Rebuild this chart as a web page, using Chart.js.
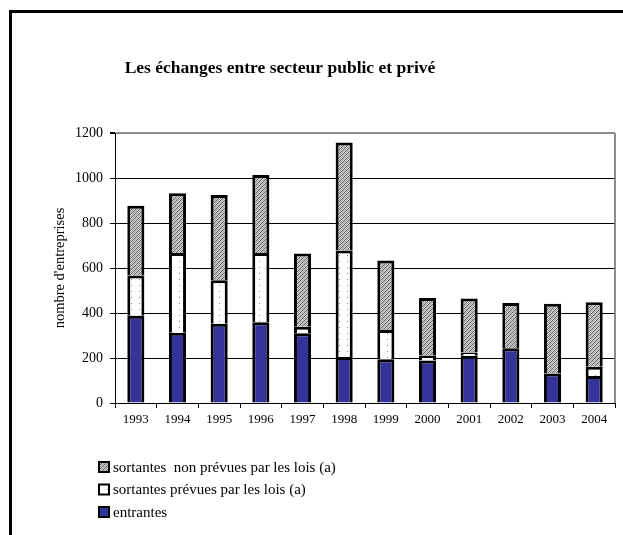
<!DOCTYPE html>
<html>
<head>
<meta charset="utf-8">
<script src="https://cdn.jsdelivr.net/npm/chart.js@4.4.0/dist/chart.umd.min.js"></script>
<style>
  html, body { margin: 0; padding: 0; background: #fff; }
  #wrap { position: relative; width: 623px; height: 535px; }
</style>
</head>
<body>
<div id="wrap"><canvas id="chart" width="623" height="535"></canvas></div>
<script>
// Data
const years = ['1993', '1994', '1995', '1996', '1997', '1998', '1999', '2000', '2001', '2002', '2003', '2004'];
const entrantes = [388, 312, 352, 359, 310, 204, 194, 189, 210, 243, 131, 120];
const sortantesPrevues = [179, 355, 194, 308, 29, 474, 130, 22, 15, 0, 2, 41];
const sortantesNonPrevues = [310, 265, 378, 346, 325, 480, 309, 256, 239, 202, 308, 287];
const yTicks = [0, 200, 400, 600, 800, 1000, 1200];
const chartTitle = 'Les échanges entre secteur public et privé';

const serif = "'Liberation Serif', 'DejaVu Serif', serif";

// Fill patterns (Excel-like)
function makeHatch() {
  const c = document.createElement('canvas');
  c.width = 4; c.height = 4;
  const g = c.getContext('2d');
  const D = '#5e5e5e', M = '#a4a4a4', L = '#d2d2d2';
  const rows = [
    [D, L, M, L],
    [L, M, L, D],
    [M, L, D, L],
    [L, D, L, M]
  ];
  rows.forEach((r, y) => r.forEach((col, x) => {
    g.fillStyle = col;
    g.fillRect(x, y, 1, 1);
  }));
  return g.createPattern(c, 'repeat');
}

function makeDots() {
  const c = document.createElement('canvas');
  c.width = 8; c.height = 6;
  const g = c.getContext('2d');
  g.fillStyle = '#fff';
  g.fillRect(0, 0, 8, 6);
  g.fillStyle = '#8a8a8a';
  g.fillRect(3, 3, 1, 1);
  return g.createPattern(c, 'repeat');
}

const hatchFill = makeHatch();
const dotFill = makeDots();

// Outer frame (only left and top edges are visible) and title
const framePlugin = {
  id: 'frame',
  beforeDraw(chart) {
    const ctx = chart.ctx;
    ctx.save();
    ctx.fillStyle = '#fff';
    ctx.fillRect(0, 0, chart.width, chart.height);
    ctx.fillStyle = '#000';
    ctx.fillRect(9, 10, 3, chart.height - 10);
    ctx.fillRect(9, 10, chart.width - 9, 3);
    ctx.font = 'bold 17.5px ' + serif;
    ctx.textAlign = 'center';
    ctx.textBaseline = 'middle';
    ctx.fillText(chartTitle, 280, 68);
    ctx.restore();
  },
  beforeDatasetsDraw(chart) {
    const { ctx, chartArea } = chart;
    ctx.save();
    ctx.strokeStyle = '#8c8c8c';
    ctx.lineWidth = 2;
    ctx.beginPath();
    ctx.moveTo(chartArea.right, chartArea.top);
    ctx.lineTo(chartArea.right, chartArea.bottom);
    ctx.stroke();
    ctx.restore();
  }
};

// Vertical legend below the chart, drawn from the datasets (reversed order)
const legendPlugin = {
  id: 'vlegend',
  afterDraw(chart) {
    const ctx = chart.ctx;
    const sets = chart.data.datasets.slice().reverse();
    ctx.save();
    ctx.font = '15px ' + serif;
    ctx.textBaseline = 'middle';
    sets.forEach((ds, i) => {
      const cy = 467 + i * 22.5;
      ctx.fillStyle = ds.backgroundColor;
      ctx.fillRect(99, cy - 5, 10, 10);
      ctx.strokeStyle = '#000';
      ctx.lineWidth = 2;
      ctx.strokeRect(99, cy - 5, 10, 10);
      ctx.fillStyle = '#000';
      ctx.fillText(ds.label, 113, cy + 1);
    });
    ctx.restore();
  }
};

const ctx = document.getElementById('chart').getContext('2d');
new Chart(ctx, {
  type: 'bar',
  data: {
    labels: years,
    datasets: [
      {
        label: 'entrantes',
        data: entrantes,
        backgroundColor: '#333399',
        borderColor: '#000',
        borderWidth: 3
      },
      {
        label: 'sortantes prévues par les lois (a)',
        data: sortantesPrevues,
        backgroundColor: dotFill,
        borderColor: '#000',
        borderWidth: 3
      },
      {
        label: 'sortantes  non prévues par les lois (a)',
        data: sortantesNonPrevues,
        backgroundColor: hatchFill,
        borderColor: '#000',
        borderWidth: 3
      }
    ]
  },
  options: {
    responsive: false,
    animation: false,
    layout: { padding: { left: 0, right: 8, top: 133, bottom: 102 } },
    datasets: { bar: { barPercentage: 0.41, categoryPercentage: 1 } },
    plugins: {
      legend: { display: false },
      tooltip: { enabled: false },
      title: { display: false }
    },
    scales: {
      x: {
        stacked: true,
        afterFit(scale) { scale.height = 30; },
        border: { color: '#000', width: 1 },
        grid: { drawOnChartArea: false, drawTicks: true, tickLength: 5, color: '#000' },
        ticks: { color: '#000', font: { family: serif, size: 13 }, padding: 4, maxRotation: 0 }
      },
      y: {
        stacked: true,
        min: 0,
        max: 1200,
        afterFit(scale) { scale.width = 115; },
        afterBuildTicks(scale) { scale.ticks = yTicks.map(v => ({ value: v })); },
        border: { color: '#000', width: 1 },
        grid: {
          color: c => (c.tick && c.tick.value === 1200 ? '#8c8c8c' : '#000'),
          lineWidth: c => (c.tick && c.tick.value === 1200 ? 2 : 1),
          tickColor: '#000',
          tickLength: 5
        },
        ticks: {
          color: '#000',
          font: { family: serif, size: 14 },
          padding: 7,
          callback: v => String(v)
        },
        title: {
          display: true,
          text: "nombre d'entreprises",
          color: '#000',
          font: { family: serif, size: 14.5 },
          padding: { top: 51, bottom: 0 }
        }
      }
    }
  },
  plugins: [framePlugin, legendPlugin]
});
</script>
</body>
</html>
